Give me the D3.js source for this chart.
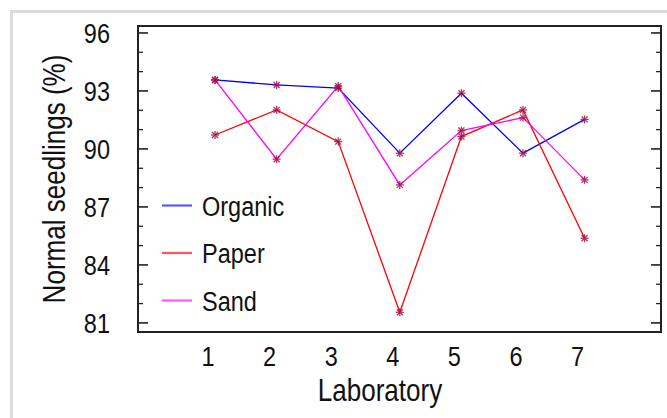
<!DOCTYPE html>
<html>
<head>
<meta charset="utf-8">
<script src="https://cdn.jsdelivr.net/npm/d3@7/dist/d3.min.js"></script>
<style>
  html, body { margin: 0; padding: 0; background: #fff; }
  svg { display: block; }
  text { font-family: "Liberation Sans", Arial, sans-serif; fill: #111; }
</style>
</head>
<body>
<script>
// Laboratory germination results: % normal seedlings per substrate
const labs = [1, 2, 3, 4, 5, 6, 7];
const organic = [93.57, 93.31, 93.15, 89.78, 92.88, 89.78, 91.53];
const paper   = [90.72, 92.02, 90.38, 81.55, 90.64, 92.02, 85.38];
const sand    = [93.57, 89.47, 93.25, 88.14, 90.95, 91.62, 88.40];
const seriesNames = ["Organic", "Paper", "Sand"];
const seriesColors = ["#0000ff", "#ff0000", "#ff00ff"];
const yTicks = [81, 84, 87, 90, 93, 96];

const W = 667, H = 418;
const box = { left: 138, right: 661, top: 26, bottom: 332 };
const NARROW = 0.84; // condensed lettering

const svg = d3.select("body").append("svg").attr("width", W).attr("height", H);

// places condensed text at (tx, ty), optionally rotated
function label(parent, tx, ty, str, size, anchor, rot) {
  return parent.append("text")
    .attr("transform", `translate(${tx},${ty})${rot ? ` rotate(${rot})` : ""} scale(${NARROW},1)`)
    .attr("text-anchor", anchor).attr("font-size", size).text(str);
}

// light outer frame
svg.append("rect").attr("x", 11.5).attr("y", 11.5).attr("width", W + 20).attr("height", H + 20)
  .attr("fill", "#fff").attr("stroke", "#dcdcdc").attr("stroke-width", 3);

const x = d3.scaleLinear().domain([-0.25, 8.24]).range([box.left, box.right]);
const y = d3.scaleLinear().domain([80.53, 96.36]).range([box.bottom, box.top]);

// minor and major ticks on left and right, pointing inward
const allTicks = d3.range(81, 97, 1);
allTicks.forEach(v => {
  const major = yTicks.includes(v);
  const len = major ? 10 : 5;
  svg.append("line").attr("x1", box.left).attr("x2", box.left + len)
    .attr("y1", y(v)).attr("y2", y(v)).attr("stroke", "#222").attr("stroke-width", major ? 1.6 : 1.3);
  svg.append("line").attr("x1", box.right).attr("x2", box.right - len)
    .attr("y1", y(v)).attr("y2", y(v)).attr("stroke", "#222").attr("stroke-width", major ? 1.6 : 1.3);
});

// y tick labels
yTicks.forEach(d => label(svg, 110, y(d) + 10, d, 28, "end"));

// x tick labels
labs.forEach(d => label(svg, x(d) - 7, 366, d, 28, "middle"));

// axis titles
label(svg, 380, 401, "Laboratory", 31, "middle");
label(svg, 65, 179, "Normal seedlings (%)", 31, "middle", -90);

// series lines
const data = [organic, paper, sand];
const line = d3.line().x((d, i) => x(labs[i])).y(d => y(d));
data.forEach((s, k) => {
  svg.append("path").datum(s).attr("d", line).attr("fill", "none")
    .attr("stroke", seriesColors[k]).attr("stroke-width", 1.3);
});

// asterisk markers
const markerColor = "#a3104a";
data.forEach(s => {
  s.forEach((v, i) => {
    const cx = x(labs[i]), cy = y(v), r = 4;
    const g = svg.append("g").attr("stroke", markerColor).attr("stroke-width", 1.3).attr("opacity", 0.85);
    g.append("line").attr("x1", cx - r).attr("x2", cx + r).attr("y1", cy).attr("y2", cy);
    g.append("line").attr("x1", cx).attr("x2", cx).attr("y1", cy - r).attr("y2", cy + r);
    g.append("line").attr("x1", cx - r * 0.75).attr("x2", cx + r * 0.75).attr("y1", cy - r * 0.75).attr("y2", cy + r * 0.75);
    g.append("line").attr("x1", cx - r * 0.75).attr("x2", cx + r * 0.75).attr("y1", cy + r * 0.75).attr("y2", cy - r * 0.75);
  });
});

// plot frame
svg.append("rect").attr("x", box.left).attr("y", box.top)
  .attr("width", box.right - box.left).attr("height", box.bottom - box.top)
  .attr("fill", "none").attr("stroke", "#222").attr("stroke-width", 2);

// legend
const legendY = [205.5, 253, 300.5];
seriesNames.forEach((name, k) => {
  svg.append("line").attr("x1", 162).attr("x2", 192).attr("y1", legendY[k]).attr("y2", legendY[k])
    .attr("stroke", seriesColors[k]).attr("stroke-width", 2.2).attr("opacity", 0.65);
  label(svg, 202, legendY[k] + 10, name, 28, "start");
});
</script>
</body>
</html>
